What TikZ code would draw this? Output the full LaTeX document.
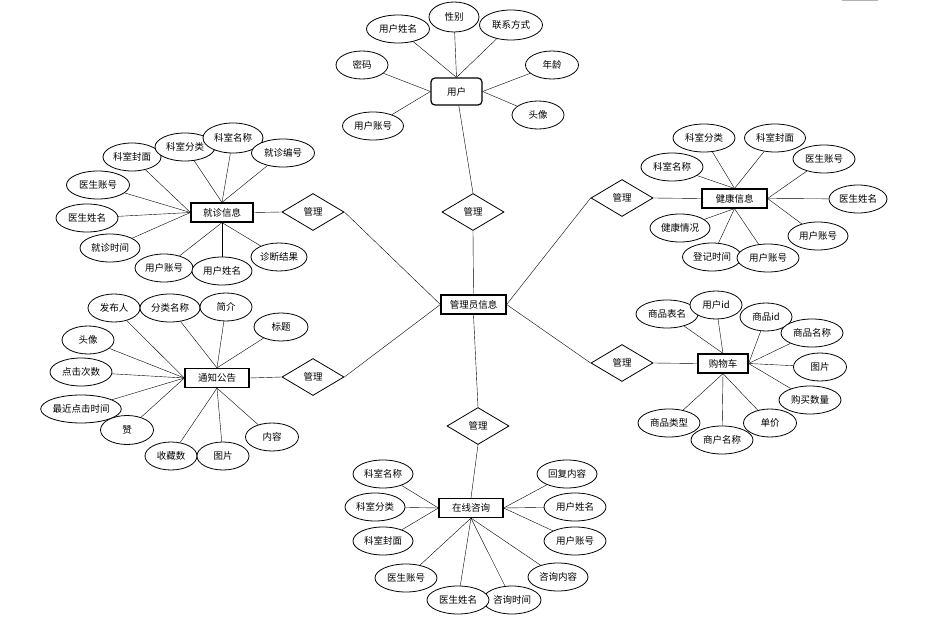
\documentclass[tikz,border=0pt]{standalone}
\usepackage{fontspec}
\setmainfont{Noto Sans CJK SC}
\usetikzlibrary{shapes.geometric,backgrounds}
\begin{document}
\begin{tikzpicture}[x=1pt,y=-1pt,
    every node/.style={font=\fontsize{9.5}{11}\selectfont,inner sep=0pt},
    attr/.style={draw,ellipse,fill=white,line width=0.8pt,minimum width=60pt,minimum height=28pt},
    ent/.style={draw,rectangle,fill=white,line width=1.2pt,minimum width=64pt,minimum height=19pt},
    rel/.style={draw,diamond,fill=white,line width=0.8pt,minimum width=62pt,minimum height=37pt},
    conn/.style={line width=0.8pt}]
    \useasboundingbox (0,0) rectangle (927,623);
    \fill[gray!60] (842,0) rectangle (878,1.5);
    % admin and relations
    \node[ent,minimum width=65pt] (gly) at (473.5,304.5) {管理员信息};
    \node[rel] (gl1) at (473,212) {管理};
    \node[rel] (gl2) at (313,212) {管理};
    \node[rel] (gl3) at (313,377) {管理};
    \node[rel] (gl4) at (622,198) {管理};
    \node[rel] (gl5) at (622,363) {管理};
    \node[rel] (gl6) at (478,426) {管理};
    % user
    \node[ent,rounded corners=4pt,minimum width=51pt,minimum height=27pt] (yh) at (456.5,91.5) {用户};
    \node[attr,minimum width=63pt] (yhxm) at (398,29) {用户姓名};
    \node[attr,minimum width=50pt,minimum height=30pt] (yhxb) at (454,17) {性别};
    \node[attr,minimum width=63pt,minimum height=30pt] (yhlx) at (511,25) {联系方式};
    \node[attr,minimum width=52pt] (yhmm) at (362,65) {密码};
    \node[attr,minimum width=53pt] (yhnl) at (552,65) {年龄};
    \node[attr,minimum width=61pt] (yhzh) at (373,126) {用户账号};
    \node[attr,minimum width=52pt] (yhtx) at (538,115) {头像};
    % jiuzhen
    \node[ent,minimum width=62pt] (jz) at (222,212.5) {就诊信息};
    \node[attr,minimum width=58pt] (jzfm) at (132,157) {科室封面};
    \node[attr] (jzfl) at (185,147) {科室分类};
    \node[attr,minimum height=30pt] (jzmc) at (233,138) {科室名称};
    \node[attr,minimum width=63pt] (jzbh) at (283,153) {就诊编号};
    \node[attr,minimum width=63pt] (jzyz) at (98,185) {医生账号};
    \node[attr,minimum width=62pt] (jzyx) at (87,218) {医生姓名};
    \node[attr] (jzsj) at (110,248) {就诊时间};
    \node[attr,minimum width=58pt] (jzuz) at (164,268) {用户账号};
    \node[attr] (jzux) at (222,271) {用户姓名};
    \node[attr,minimum width=56pt] (jzjg) at (279,257) {诊断结果};
    % tongzhi
    \node[ent] (tz) at (217,378) {通知公告};
    \node[attr,minimum width=52pt] (tzfb) at (114,308) {发布人};
    \node[attr] (tzfl) at (170,308) {分类名称};
    \node[attr,minimum width=52pt] (tzjj) at (226,307) {简介};
    \node[attr,minimum width=54pt] (tzbt) at (281,327) {标题};
    \node[attr,minimum width=52pt] (tztx) at (88,340) {头像};
    \node[attr,minimum width=62pt] (tzdj) at (81,372) {点击次数};
    \node[attr,minimum width=80pt] (tzzj) at (81,409) {最近点击时间};
    \node[attr,minimum width=53pt,minimum height=29pt] (tzz) at (127,430) {赞};
    \node[attr,minimum width=52pt] (tzsc) at (171,456) {收藏数};
    \node[attr,minimum width=52pt] (tztp) at (223,456) {图片};
    \node[attr,minimum width=53pt] (tznr) at (272,437) {内容};
    % jiankang
    \node[ent,minimum width=65pt] (jk) at (734.5,198.5) {健康信息};
    \node[attr,minimum width=62pt] (jkfl) at (704,138) {科室分类};
    \node[attr,minimum width=61pt] (jkfm) at (775,138) {科室封面};
    \node[attr,minimum width=62pt] (jkmc) at (672,167) {科室名称};
    \node[attr,minimum width=62pt] (jkyz) at (824,159) {医生账号};
    \node[attr,minimum width=58pt] (jkyx) at (858,199) {医生姓名};
    \node[attr] (jkuz) at (818,236) {用户账号};
    \node[attr] (jkqk) at (680,228) {健康情况};
    \node[attr,minimum width=59pt] (jksj) at (712,257) {登记时间};
    \node[attr,minimum width=62pt] (jkuy) at (768,258) {用户账号};
    % gouwuche
    \node[ent,minimum width=50pt] (gwc) at (723,363.5) {购物车};
    \node[attr,minimum width=62pt] (gwbm) at (667,314) {商品表名};
    \node[attr,minimum width=52pt] (gwid) at (716,305) {用户id};
    \node[attr,minimum width=52pt] (gwsp) at (766,317) {商品id};
    \node[attr,minimum width=62pt] (gwmc) at (812,333) {商品名称};
    \node[attr,minimum width=53pt] (gwtp) at (820,367) {图片};
    \node[attr,minimum width=62pt] (gwsl) at (810,400) {购买数量};
    \node[attr,minimum width=53pt] (gwdj) at (770,423) {单价};
    \node[attr,minimum width=62pt] (gwsh) at (722,440) {商户名称};
    \node[attr,minimum width=62pt] (gwlx) at (669,423) {商品类型};
    % zixun
    \node[ent] (zx) at (471,508) {在线咨询};
    \node[attr] (zxmc) at (383,474) {科室名称};
    \node[attr] (zxfl) at (375,507) {科室分类};
    \node[attr] (zxfm) at (383,541) {科室封面};
    \node[attr] (zxhf) at (567,474) {回复内容};
    \node[attr,minimum width=62pt] (zxux) at (575,507) {用户姓名};
    \node[attr,minimum width=62pt] (zxuz) at (575,541) {用户账号};
    \node[attr] (zxnr) at (558,577) {咨询内容};
    \node[attr,minimum width=62pt] (zxyz) at (406,578) {医生账号};
    \node[attr,minimum width=58pt] (zxsj) at (512,600) {咨询时间};
    \node[attr,minimum width=62pt] (zxyx) at (458,600) {医生姓名};
    % connectors
    \begin{scope}[on background layer,conn]
        \draw (yh) -- (gl1.north);
        \draw (gl1.south) -- (gly.north);
        \draw (gl2.east) -- (gly.west);
        \draw (gl3.east) -- (gly.west);
        \draw (gl4.west) -- (gly.east);
        \draw (gl5.west) -- (gly.east);
        \draw (gl6.north) -- (gly.south);
        \draw (jz.east) -- (gl2.west);
        \draw (tz.east) -- (gl3.west);
        \draw (gl4.east) -- (jk.west);
        \draw (gl5.east) -- (gwc.west);
        \draw (gl6.south) -- (zx.north);
        \foreach \a in {yhxm,yhxb,yhlx} \draw (\a) -- (yh.north);
        \foreach \a in {yhmm,yhzh} \draw (\a) -- (yh.west);
        \foreach \a in {yhnl,yhtx} \draw (\a) -- (yh.east);
        \foreach \a in {jzfm,jzyz,jzyx,jzsj} \draw (\a) -- (jz.west);
        \foreach \a in {jzfl,jzmc,jzbh} \draw (\a) -- (jz.north);
        \foreach \a in {jzuz,jzux,jzjg} \draw (\a) -- (jz.south);
        \foreach \a in {tzfb,tztx,tzdj,tzzj,tzz} \draw (\a) -- (tz.west);
        \foreach \a in {tzfl,tzjj,tzbt} \draw (\a) -- (tz.north);
        \foreach \a in {tzsc,tztp,tznr} \draw (\a) -- (tz.south);
        \foreach \a in {jkfl,jkfm,jkmc} \draw (\a) -- (jk.north);
        \foreach \a in {jkyz,jkyx,jkuz} \draw (\a) -- (jk.east);
        \foreach \a in {jkqk,jksj,jkuy} \draw (\a) -- (jk.south);
        \foreach \a in {gwbm,gwid} \draw (\a) -- (gwc.north);
        \foreach \a in {gwsp,gwmc,gwtp,gwsl} \draw (\a) -- (gwc.east);
        \foreach \a in {gwdj,gwsh,gwlx} \draw (\a) -- (gwc.south);
        \foreach \a in {zxmc,zxfl,zxfm} \draw (\a) -- (zx.west);
        \foreach \a in {zxhf,zxux,zxuz} \draw (\a) -- (zx.east);
        \foreach \a in {zxnr,zxyz,zxsj,zxyx} \draw (\a) -- (zx.south);
    \end{scope}
\end{tikzpicture}
\end{document}
